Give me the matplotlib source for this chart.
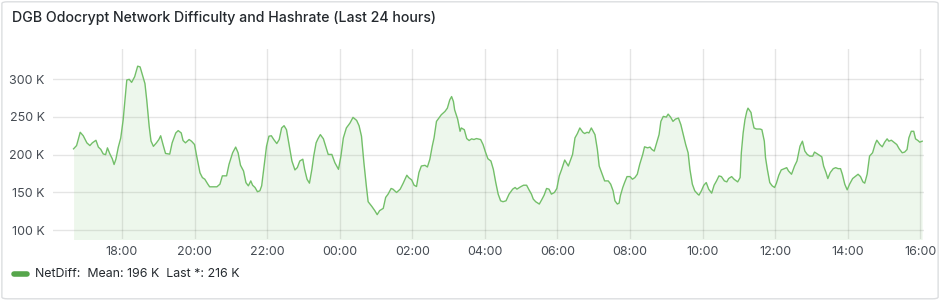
import numpy as np
import pandas as pd
import matplotlib
matplotlib.use("Agg")
import matplotlib.pyplot as plt
import matplotlib.dates as mdates
from matplotlib.patches import FancyBboxPatch
from matplotlib.lines import Line2D
from matplotlib.ticker import FuncFormatter

plt.rcParams['font.family'] = ['Inter', 'DejaVu Sans']

# minutes after 16:00 (day 0) and network difficulty in thousands
minutes = [40, 45, 51, 56, 62, 67, 71, 77, 81, 85, 89, 93, 96, 100, 104, 107, 110, 114, 118,
           122, 126, 128, 132, 136, 141, 146, 150, 154, 158, 161, 165, 168, 172, 177, 181, 184,
           188, 192, 199, 203, 209, 213, 218, 221, 225, 231, 235, 240, 243, 249, 253, 257, 262,
           265, 274, 277, 282, 286, 293, 297, 303, 308, 312, 316, 321, 325, 329, 333, 336, 340,
           344, 348, 351, 355, 359, 363, 367, 371, 376, 380, 384, 388, 392, 397, 401, 406, 410,
           414, 419, 422, 426, 430, 434, 437, 441, 444, 448, 453, 457, 461, 467, 472, 478, 482,
           486, 491, 497, 502, 508, 512, 516, 520, 524, 527, 533, 538, 542, 546, 552, 556, 560,
           565, 568, 574, 580, 585, 591, 594, 599, 603, 607, 611, 615, 621, 625, 629, 633, 636,
           640, 644, 648, 654, 658, 662, 665, 668, 670, 675, 679, 681, 686, 690, 694, 698, 702,
           706, 713, 717, 721, 725, 730, 734, 738, 742, 746, 750, 755, 760, 766, 770, 773, 779,
           784, 789, 793, 797, 800, 804, 810, 814, 818, 822, 826, 830, 835, 839, 843, 847, 852,
           858, 862, 865, 869, 873, 877, 882, 885, 889, 892, 896, 902, 906, 909, 913, 918, 924,
           928, 932, 935, 939, 942, 944, 948, 951, 955, 960, 964, 968, 972, 976, 981, 984, 989,
           993, 996, 1000, 1004, 1008, 1011, 1015, 1020, 1023, 1027, 1031, 1035, 1040, 1044,
           1048, 1052, 1056, 1059, 1063, 1067, 1072, 1074, 1078, 1082, 1086, 1090, 1095, 1099,
           1103, 1107, 1111, 1116, 1120, 1123, 1128, 1132, 1138, 1142, 1144, 1147, 1150, 1153,
           1155, 1160, 1162, 1165, 1169, 1175, 1178, 1182, 1184, 1187, 1191, 1195, 1199, 1202,
           1206, 1210, 1215, 1219, 1222, 1227, 1232, 1236, 1241, 1245, 1249, 1253, 1257, 1262,
           1265, 1271, 1277, 1280, 1284, 1287, 1291, 1296, 1300, 1304, 1308, 1311, 1315, 1319,
           1323, 1328, 1332, 1337, 1341, 1345, 1348, 1352, 1356, 1361, 1365, 1368, 1373, 1377,
           1381, 1385, 1388, 1392, 1396, 1401, 1405, 1410, 1414, 1418, 1421, 1425, 1429, 1432,
           1436, 1439, 1443]
netdiff_k = [207.7, 212, 229.6, 225, 215.6, 212, 215.6, 219, 210, 207, 201, 200, 209, 201, 194.6,
             187, 194, 210, 222, 246, 281, 298.7, 299.6, 295.6, 303, 317, 316, 305, 294, 272,
             237.5, 218, 211, 215.6, 220, 225, 213, 201.6, 200.7, 215.6, 228.7, 231.8, 228.7,
             218.7, 215.6, 220, 217.8, 213.4, 200.3, 176, 169.7, 167.5, 161, 157.5, 157.5,
             157.5, 161, 172, 172, 187.2, 202.5, 210, 202.5, 186, 178.4, 163, 158.8, 165.3,
             159.6, 156.6, 151, 152.2, 158.8, 185, 211, 224.4, 225, 220, 214.7, 220, 235.3,
             238.3, 233, 210.4, 191.6, 179.8, 183, 191.6, 194, 180.6, 167.5, 162.3, 180.6, 198,
             215.6, 220.9, 226.5, 221, 210.4, 200.3, 200.3, 189.4, 180.6, 198, 222, 235.3,
             241.8, 249.3, 245.3, 238.3, 224.4, 189.4, 158.8, 137.8, 131.7, 126, 120.7, 126, 129,
             143.5, 147.8, 155.3, 154.4, 150, 154.4, 162.3, 172.8, 169.7, 166.6, 159.6, 157.9,
             176.3, 185, 185.9, 183.7, 193.7, 211.2, 222.2, 244, 248.4, 252.8, 257.1, 261.5,
             272.5, 276.8, 270.3, 259.3, 247, 230.9, 235.3, 233, 221.3, 218.7, 220.9, 220,
             221.3, 220, 213.4, 203.4, 194.6, 191.6, 180.6, 163.1, 147.8, 139, 137.8, 139,
             147.8, 154.4, 156.6, 154.4, 157.5, 159.6, 159.6, 153.5, 147.8, 141.3, 137.8, 134.7,
             140.4, 146.5, 155.3, 154.4, 147.8, 150, 155.3, 171.9, 180.6, 192.9, 185, 193.7,
             200.3, 222.2, 227.9, 235.3, 229.6, 227.9, 229.6, 228.7, 235.3, 226.5, 206.8, 185,
             176.3, 165.3, 165.3, 161, 152.2, 139, 134.7, 136, 145.6, 156.6, 163.1, 171, 171,
             167.5, 169.7, 174.1, 187.2, 200.3, 210.4, 209, 210, 207, 204.7, 215.6, 226.5, 244,
             250.6, 249.7, 253.6, 249.7, 244, 247, 248.4, 239.7, 226.5, 213.4, 202.5, 180.6,
             161, 152.2, 147.8, 146.5, 152.2, 159.6, 163.1, 154.4, 149.1, 159.6, 165.3, 171.9,
             171, 165.3, 164, 168.4, 171, 167.5, 164, 169.7, 202.5, 228.7, 246.2, 257.1, 261.5,
             255.8, 246.2, 235.3, 233.9, 233.9, 233, 217.8, 195.9, 180.6, 163.1, 158.8, 156.6,
             162.3, 172.8, 179.8, 181.5, 182.8, 178.4, 174.1, 185, 191.6, 211.2, 217.8, 204.7,
             200.3, 198.1, 198.1, 203.4, 200.3, 197.2, 185, 176.3, 168.4, 176.3, 181.5, 182.8,
             181.5, 181.5, 174.1, 161, 153.5, 161, 168.4, 171, 174.1, 171, 164, 162.3, 174.1,
             198.1, 202.5, 213.4, 219.1, 213.4, 210.4, 216.5, 220.9, 217.8, 219.1, 216.5,
             213.4, 207.7, 202.5, 203.4, 206.8, 222.2, 230.9, 230.9, 220.9, 218.7, 216.5, 217.8]

y_ticks = [100, 150, 200, 250, 300]
legend_name = "NetDiff"
legend_stats = ["Mean: 196 K", "Last *: 216 K"]
title = "DGB Odocrypt Network Difficulty and Hashrate (Last 24 hours)"

start = pd.Timestamp("2024-01-01 16:00")
times = start + pd.to_timedelta(minutes, unit="min")

green = "#73BF69"
text_col = "#24292E"
tick_col = "#464C54"

fig = plt.figure(figsize=(9.4, 3.0), dpi=100)

# panel frame
fig.add_artist(FancyBboxPatch((0.002, 0.004), 0.996, 0.99, boxstyle="round,pad=0,rounding_size=0.006",
                              transform=fig.transFigure, facecolor="white", edgecolor="#DCDEE0",
                              linewidth=1, zorder=-10))

fig.text(12 / 940, 1 - 18 / 300, title, fontsize=10.2, color=text_col, fontweight="medium",
         ha="left", va="center")

ax = fig.add_axes([53 / 940, 1 - 239 / 300, (924 - 53) / 940, (239 - 49) / 300])
ax.plot(times, netdiff_k, color=green, linewidth=1)
ax.fill_between(times, netdiff_k, 0, color=green, alpha=0.12, linewidth=0)

ax.set_ylim(88.5, 339.7)
ax.set_xlim(start + pd.Timedelta(minutes=6), start + pd.Timedelta(minutes=1446))
ax.set_yticks(y_ticks)
ax.yaxis.set_major_formatter(FuncFormatter(lambda v, p: f"{v:.0f} K"))
ax.xaxis.set_major_locator(mdates.HourLocator(byhour=range(0, 24, 2)))
ax.xaxis.set_major_formatter(mdates.DateFormatter("%H:%M"))

ax.grid(True, color="#000000", alpha=0.1, linewidth=1)
ax.set_axisbelow(True)
for s in ax.spines.values():
    s.set_visible(False)
ax.tick_params(length=0, labelsize=9, colors=tick_col, pad=6)
ax.tick_params(axis="x", pad=5)

# legend
fig.add_artist(Line2D([14 / 940, 27 / 940], [1 - 274 / 300] * 2, color="#56A64B", linewidth=4,
                      solid_capstyle="round", transform=fig.transFigure))
fig.text(35 / 940, 1 - 274 / 300, legend_name + ":  " + "  ".join(legend_stats), fontsize=8.9,
         color=text_col, ha="left", va="center")

fig.savefig("out.png", dpi=100)
